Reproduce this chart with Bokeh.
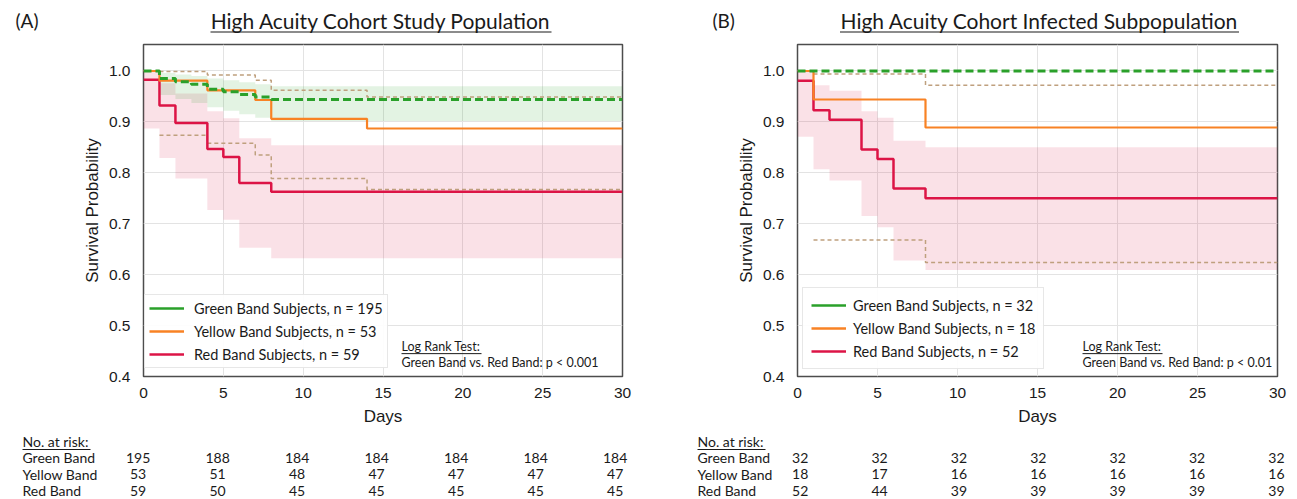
from bokeh.plotting import figure
from bokeh.models import (Label, Arrow, Legend, LegendItem, FixedTicker,
                          NumeralTickFormatter, Range1d)
from bokeh.core.properties import value
from bokeh.layouts import row, column
from bokeh.embed import file_html
from bokeh.resources import INLINE

# ---------------- data ----------------
FOLLOW_UP_END = 30
DAY_TICKS = [0, 5, 10, 15, 20, 25, 30]
SURV_TICKS = [0.4, 0.5, 0.6, 0.7, 0.8, 0.9, 1.0]
RISK_ROWS = ["Green Band", "Yellow Band", "Red Band"]

# Panel A: High Acuity Cohort Study Population
a_title = "High Acuity Cohort Study Population"
a_green_t = [0, 1, 2, 3, 4, 5, 6, 7, 8]
a_green_s = [1.0, 0.985, 0.979, 0.974, 0.964, 0.959, 0.954, 0.949, 0.944]
a_green_ci_t = [1, 2, 3, 4, 5, 6, 7, 8]
a_green_ci_lo = [0.953, 0.945, 0.937, 0.929, 0.922, 0.915, 0.908, 0.902]
a_green_ci_hi = [0.996, 0.993, 0.990, 0.985, 0.982, 0.978, 0.974, 0.970]
a_yellow_t = [0, 1, 4, 7, 8, 14]
a_yellow_s = [1.0, 0.981, 0.962, 0.943, 0.906, 0.887]
a_yellow_ci_t = [1, 4, 7, 8, 14]
a_yellow_ci_lo = [0.874, 0.858, 0.835, 0.789, 0.767]
a_yellow_ci_hi = [0.999, 0.992, 0.982, 0.962, 0.949]
a_red_t = [0, 1, 2, 4, 5, 6, 8]
a_red_s = [0.983, 0.932, 0.898, 0.847, 0.831, 0.780, 0.763]
a_red_ci_lo = [0.887, 0.829, 0.789, 0.727, 0.708, 0.653, 0.632]
a_red_ci_hi = [0.998, 0.976, 0.956, 0.921, 0.907, 0.868, 0.854]
a_legend = ["Green Band Subjects, n = 195", "Yellow Band Subjects, n = 53",
            "Red Band Subjects, n = 59"]
a_logrank = "Green Band vs. Red Band: p < 0.001"
a_risk_green = [195, 188, 184, 184, 184, 184, 184]
a_risk_yellow = [53, 51, 48, 47, 47, 47, 47]
a_risk_red = [59, 50, 45, 45, 45, 45, 45]

# Panel B: High Acuity Cohort Infected Subpopulation
b_title = "High Acuity Cohort Infected Subpopulation"
b_green_t = [0]
b_green_s = [1.0]
b_yellow_t = [0, 1, 8]
b_yellow_s = [1.0, 0.944, 0.889]
b_yellow_ci_t = [1, 8]
b_yellow_ci_lo = [0.668, 0.624]
b_yellow_ci_hi = [0.994, 0.972]
b_red_t = [0, 1, 2, 4, 5, 6, 8]
b_red_s = [0.981, 0.923, 0.904, 0.846, 0.827, 0.769, 0.750]
b_red_ci_lo = [0.871, 0.807, 0.785, 0.715, 0.693, 0.628, 0.609]
b_red_ci_hi = [0.998, 0.972, 0.961, 0.921, 0.908, 0.863, 0.850]
b_legend = ["Green Band Subjects, n = 32", "Yellow Band Subjects, n = 18",
            "Red Band Subjects, n = 52"]
b_logrank = "Green Band vs. Red Band: p < 0.01"
b_risk_green = [32, 32, 32, 32, 32, 32, 32]
b_risk_yellow = [18, 17, 16, 16, 16, 16, 16]
b_risk_red = [52, 44, 39, 39, 39, 39, 39]

# ---------------- style / layout ----------------
GREEN = "#2aa02a"
ORANGE = "#f88224"
RED = "#dc1446"
TAN = "#bfa07e"
TXT = "#1a1a1a"
SANS = "Liberation Sans"
HUM = "Lato"
NAN = float("nan")

Y_MIN, Y_MAX = 0.4, 1.052
HEAD_H = 40        # header figure height
PLOT_TOP_B = 4     # frame starts at y = 44
FRAME_H = 334
PLOT_BOTTOM_B = 50
TABLE_TOP = HEAD_H + PLOT_TOP_B + FRAME_H + PLOT_BOTTOM_B   # 428
PAGE_H = 499
TABLE_FONT = "14px"


def step_xy(t, v, end=FOLLOW_UP_END):
    xs, ys = [], []
    for i in range(len(t)):
        x_next = t[i + 1] if i + 1 < len(t) else end
        xs += [t[i], x_next]
        ys += [v[i], v[i]]
    return xs, ys


def bare_fig(width, height, x_range, y_range):
    f = figure(width=width, height=height, x_range=x_range, y_range=y_range,
               output_backend="svg", toolbar_location=None, frame_align=False,
               min_border=0, min_border_left=0, min_border_right=0,
               min_border_top=0, min_border_bottom=0)
    f.axis.visible = False
    f.grid.visible = False
    f.outline_line_color = None
    return f


def make_panel(width, border_left, border_right, tag, tag_x, title, title_x,
               title_w, green, yellow, yellow_ci, red, red_ci, green_ci,
               legend_labels, legend_loc, legend_pad, legend_standoff,
               logrank, logrank_dx, risks, row_label_dx, col_shift, col_scale):
    frame_w = width - border_left - border_right
    ppd = frame_w / FOLLOW_UP_END          # pixels per day
    ppu = FRAME_H / (Y_MAX - Y_MIN)        # pixels per survival unit

    # ---------- header (tag + underlined title) ----------
    h = bare_fig(width, HEAD_H, Range1d(0, width), Range1d(HEAD_H, 0))
    h.text(x=[tag_x], y=[20], text=[tag], text_font=value(HUM),
           text_font_size="19px", text_baseline="middle", text_align="left",
           text_color=TXT)
    h.text(x=[title_x], y=[20], text=[title], text_font=value(HUM),
           text_font_size="21px", text_baseline="middle", text_align="center",
           text_color=TXT)
    h.segment(x0=[title_x - title_w / 2], x1=[title_x + title_w / 2],
              y0=[31.5], y1=[31.5], line_color=TXT, line_width=1.1)

    # ---------- main plot ----------
    p = figure(width=width, height=PLOT_TOP_B + FRAME_H + PLOT_BOTTOM_B,
               x_range=Range1d(0, FOLLOW_UP_END), y_range=Range1d(Y_MIN, Y_MAX),
               output_backend="svg", toolbar_location=None, frame_align=False,
               min_border_left=border_left, min_border_right=border_right,
               min_border_top=PLOT_TOP_B, min_border_bottom=PLOT_BOTTOM_B)
    p.outline_line_color = "#4d4d4d"
    p.outline_line_width = 1.5
    p.xaxis.ticker = FixedTicker(ticks=DAY_TICKS)
    p.yaxis.ticker = FixedTicker(ticks=SURV_TICKS)
    p.yaxis.formatter = NumeralTickFormatter(format="0.0")
    for ax in (p.xaxis, p.yaxis):
        ax.axis_line_color = None
        ax.major_tick_line_color = None
        ax.minor_tick_line_color = None
        ax.major_tick_out = 0
        ax.major_tick_in = 0
        ax.minor_tick_out = 0
        ax.major_label_text_font = SANS
        ax.major_label_text_font_size = "15.5px"
        ax.major_label_text_color = TXT
        ax.axis_label_text_font = SANS
        ax.axis_label_text_font_size = "17px"
        ax.axis_label_text_font_style = "normal"
        ax.axis_label_text_color = TXT
    p.xaxis.major_label_standoff = 11
    p.yaxis.major_label_standoff = 13
    p.xaxis.axis_label = "Days"
    p.xaxis.axis_label_standoff = 6
    p.yaxis.axis_label = "Survival Probability"
    p.yaxis.axis_label_standoff = 4
    p.grid.grid_line_color = "#e3e3e3"
    p.grid.grid_line_width = 1

    x, lo = step_xy(red[0], red_ci[0])
    _, hi = step_xy(red[0], red_ci[1])
    p.varea(x=x, y1=lo, y2=hi, fill_color=RED, fill_alpha=0.13)
    if green_ci is not None:
        x, lo = step_xy(green_ci[0], green_ci[1])
        _, hi = step_xy(green_ci[0], green_ci[2])
        p.varea(x=x, y1=lo, y2=hi, fill_color=GREEN, fill_alpha=0.13)
    for bound in (yellow_ci[1], yellow_ci[2]):
        x, y = step_xy(yellow_ci[0], bound)
        p.line(x, y, line_color=TAN, line_width=1.5, line_dash="4 3")
    x, y = step_xy(*red)
    p.line(x, y, line_color=RED, line_width=2.5)
    x, y = step_xy(*yellow)
    p.line(x, y, line_color=ORANGE, line_width=2.2)
    x, y = step_xy(*green)
    p.line(x, y, line_color=GREEN, line_width=3, line_dash="8 4")

    proxies = [p.line(x=[0, 1], y=[NAN, NAN], line_color=c, line_width=2.5)
               for c in (GREEN, ORANGE, RED)]
    legend = Legend(items=[LegendItem(label=l, renderers=[r])
                           for l, r in zip(legend_labels, proxies)],
                    location=legend_loc, orientation="vertical")
    legend.label_text_font = HUM
    legend.label_text_font_size = "14.5px"
    legend.label_text_color = TXT
    legend.label_height = 18
    legend.glyph_height = 18
    legend.glyph_width = 35
    legend.label_standoff = legend_standoff
    legend.spacing = 5
    legend.padding = legend_pad
    legend.margin = 0
    legend.border_line_color = "#cfcfcf"
    legend.border_line_width = 1
    legend.background_fill_alpha = 0.92
    p.add_layout(legend)

    # log-rank note, inside the frame (positions in data units)
    lx = logrank_dx / ppd
    for txt, dy in (("Log Rank Test:", 30), (logrank, 14)):
        p.add_layout(Label(x=lx, y=Y_MIN + dy / ppu, text=txt,
                           text_font=HUM, text_font_size="12.5px",
                           text_align="left", text_baseline="middle",
                           text_color=TXT))
    p.add_layout(Arrow(x_start=lx, x_end=lx + 80 / ppd,
                       y_start=Y_MIN + 23 / ppu, y_end=Y_MIN + 23 / ppu,
                       start=None, end=None, line_color=TXT, line_width=1.0))

    # ---------- number-at-risk table (same day scale as the plot) ----------
    t_h = PAGE_H - TABLE_TOP
    t = bare_fig(width, t_h,
                 Range1d(-border_left / ppd, (width - border_left) / ppd),
                 Range1d(PAGE_H, TABLE_TOP))
    lab_x = -row_label_dx / ppd
    t.text(x=[lab_x], y=[441], text=["No. at risk:"], text_font=value(HUM),
           text_font_size=TABLE_FONT, text_baseline="middle", text_align="left",
           text_color=TXT)
    t.segment(x0=[lab_x], x1=[lab_x + 68 / ppd], y0=[449], y1=[449],
              line_color=TXT, line_width=1.0)
    for r, (name, counts) in enumerate(zip(RISK_ROWS, risks)):
        yy = 457 + r * 16.5
        t.text(x=[lab_x], y=[yy], text=[name], text_font=value(HUM),
               text_font_size=TABLE_FONT, text_baseline="middle",
               text_align="left", text_color=TXT)
        t.text(x=[d * col_scale + col_shift for d in DAY_TICKS],
               y=[yy] * len(counts), text=[str(c) for c in counts],
               text_font=value(HUM), text_font_size=TABLE_FONT,
               text_baseline="middle", text_align="center", text_color=TXT)
    return column(h, p, t, spacing=0)


colA = make_panel(650, 143, 28, "(A)", 15, a_title, 380.5, 341,
                  (a_green_t, a_green_s), (a_yellow_t, a_yellow_s),
                  (a_yellow_ci_t, a_yellow_ci_lo, a_yellow_ci_hi),
                  (a_red_t, a_red_s), (a_red_ci_lo, a_red_ci_hi),
                  (a_green_ci_t, a_green_ci_lo, a_green_ci_hi),
                  a_legend, (1, 8), 4, 10,
                  a_logrank, 258, [a_risk_green, a_risk_yellow, a_risk_red],
                  121, -0.34, 0.996)

colB = make_panel(647, 147, 20, "(B)", 62, b_title, 389, 399,
                  (b_green_t, b_green_s), (b_yellow_t, b_yellow_s),
                  (b_yellow_ci_t, b_yellow_ci_lo, b_yellow_ci_hi),
                  (b_red_t, b_red_s), (b_red_ci_lo, b_red_ci_hi),
                  None,
                  b_legend, (5, 7), 8, 7,
                  b_logrank, 285, [b_risk_green, b_risk_yellow, b_risk_red],
                  100, 0.17, 0.992)

layout = row(colA, colB, spacing=0)
open("out.html", "w").write(file_html(layout, INLINE))
